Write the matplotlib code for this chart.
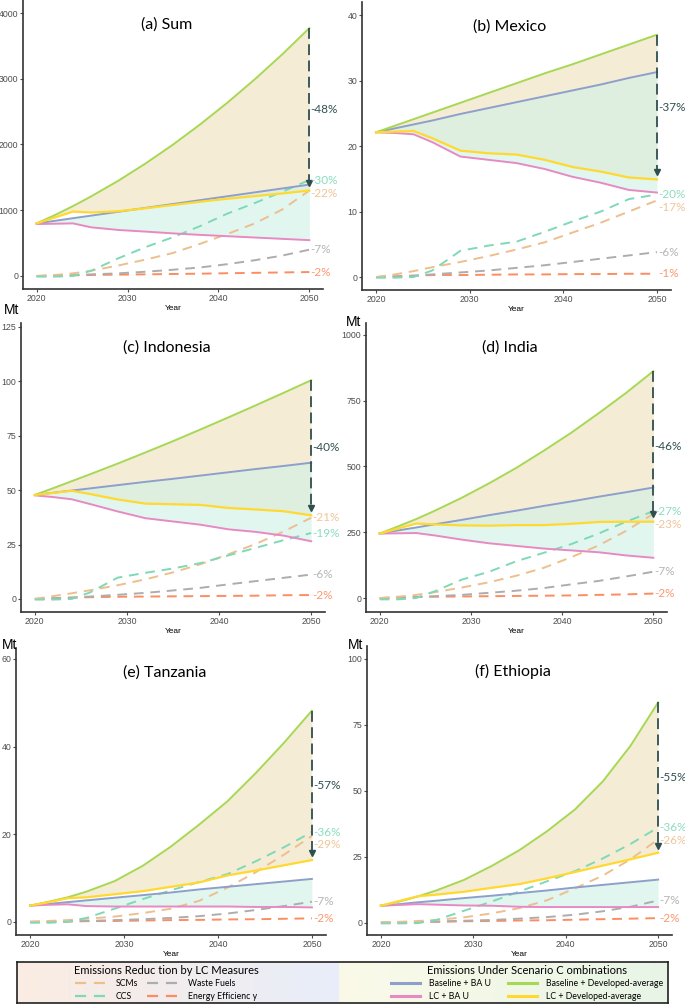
import numpy as np
import matplotlib
matplotlib.use('Agg')
import matplotlib.pyplot as plt
from matplotlib.lines import Line2D
from matplotlib.transforms import blended_transform_factory

years = [2020, 2022, 2024, 2026, 2029, 2032, 2035, 2038, 2041, 2044, 2047, 2050]

# (a) Sum
sum_base_bau = [800, 839, 879, 918, 977, 1036, 1095, 1154, 1213, 1272, 1331, 1390]
sum_lc_bau = [790, 795, 800, 740, 700, 675, 648, 625, 605, 585, 565, 545]
sum_base_dev = [800, 926, 1063, 1211, 1450, 1713, 1998, 2307, 2638, 2992, 3369, 3770]
sum_lc_dev = [800, 890, 980, 965, 985, 1030, 1080, 1130, 1175, 1215, 1255, 1300]
sum_scm = [0, 15, 40, 80, 160, 250, 350, 490, 640, 800, 1010, 1300]
sum_ccs = [-10, -10, 0, 80, 270, 440, 590, 760, 950, 1110, 1280, 1460]
sum_waste = [0, 5, 12, 25, 40, 65, 95, 130, 180, 240, 310, 400]
sum_ee = [0, 5, 10, 15, 20, 25, 30, 35, 42, 48, 54, 60]
sum_pct = ['-48%', '-30%', '-22%', '-7%', '-2%']

# (b) Mexico
mex_base_bau = [22.1, 22.7, 23.3, 23.9, 24.9, 25.8, 26.7, 27.6, 28.5, 29.4, 30.4, 31.3]
mex_lc_bau = [22.1, 22.0, 21.8, 20.6, 18.4, 17.9, 17.4, 16.5, 15.3, 14.4, 13.3, 12.9]
mex_base_dev = [22.1, 23.1, 24.1, 25.1, 26.6, 28.1, 29.6, 31.1, 32.5, 34.0, 35.5, 37.0]
mex_lc_dev = [22.1, 22.2, 22.3, 21.2, 19.3, 18.9, 18.7, 17.9, 16.8, 16.1, 15.2, 14.9]
mex_scm = [0, 0.4, 0.9, 1.5, 2.3, 3.2, 4.2, 5.3, 6.8, 8.3, 10.0, 11.7]
mex_ccs = [-0.1, -0.1, 0.0, 1.0, 4.0, 4.8, 5.4, 6.9, 8.5, 10.0, 11.9, 12.6]
mex_waste = [0, 0.1, 0.2, 0.4, 0.7, 1.0, 1.4, 1.8, 2.3, 2.8, 3.3, 3.8]
mex_ee = [0, 0.1, 0.2, 0.3, 0.3, 0.35, 0.4, 0.4, 0.45, 0.45, 0.5, 0.5]
mex_pct = ['-37%', '-20%', '-17%', '-6%', '-1%']

# (c) Indonesia
idn_base_bau = [47.8, 48.8, 49.8, 50.8, 52.3, 53.8, 55.2, 56.7, 58.2, 59.7, 61.1, 62.6]
idn_lc_bau = [47.6, 46.8, 45.8, 43.6, 40.2, 37.1, 35.6, 34.1, 32.0, 30.8, 29.1, 26.5]
idn_base_dev = [47.8, 50.9, 54.1, 57.3, 62.2, 67.3, 72.5, 77.9, 83.4, 89.0, 94.7, 100.5]
idn_lc_dev = [47.8, 48.7, 49.7, 48.2, 45.7, 43.8, 43.5, 43.2, 41.8, 41.1, 40.3, 38.4]
idn_scm = [0, 1.3, 2.6, 4.0, 6.3, 9.0, 12.2, 16.0, 20.5, 25.3, 31.0, 37.3]
idn_ccs = [-0.3, -0.3, 0.0, 3.0, 9.8, 12.0, 14.0, 16.5, 20.0, 23.5, 27.0, 30.3]
idn_waste = [0, 0.3, 0.6, 1.1, 1.9, 2.8, 3.9, 5.1, 6.7, 8.2, 9.7, 11.2]
idn_ee = [0, 0.3, 0.6, 0.8, 1.0, 1.1, 1.2, 1.3, 1.4, 1.5, 1.7, 1.8]
idn_pct = ['-40%', '-19%', '-21%', '-6%', '-2%']

# (d) India
ind_base_bau = [245, 257, 268, 280, 297, 315, 332, 350, 367, 385, 402, 420]
ind_lc_bau = [245, 246, 247, 238, 222, 208, 198, 188, 181, 174, 162, 153]
ind_base_dev = [245, 272, 300, 331, 381, 436, 495, 560, 628, 702, 779, 862]
ind_lc_dev = [245, 264, 283, 280, 276, 275, 277, 277, 282, 289, 290, 290]
ind_scm = [0, 5, 12, 22, 40, 60, 85, 115, 155, 200, 255, 320]
ind_ccs = [-5, -5, 0, 25, 70, 100, 140, 172, 205, 245, 290, 330]
ind_waste = [0, 2, 4, 7, 12, 20, 28, 38, 52, 65, 82, 100]
ind_ee = [0, 2, 4, 5, 6, 7, 8, 9, 10, 12, 14, 17]
ind_pct = ['-46%', '-27%', '-23%', '-7%', '-2%']

# (e) Tanzania
tza_base_bau = [3.7, 4.1, 4.5, 4.9, 5.5, 6.1, 6.7, 7.4, 8.0, 8.6, 9.2, 9.8]
tza_lc_bau = [3.7, 3.9, 4.0, 3.6, 3.5, 3.5, 3.5, 3.5, 3.5, 3.4, 3.4, 3.3]
tza_base_dev = [3.7, 4.6, 5.6, 6.9, 9.3, 12.8, 17.2, 22.2, 27.5, 33.9, 40.8, 48.2]
tza_lc_dev = [3.7, 4.5, 5.4, 5.6, 6.3, 7.0, 8.0, 9.0, 10.6, 11.7, 12.9, 14.1]
tza_scm = [0, 0.2, 0.4, 0.7, 1.2, 2.0, 3.0, 4.8, 7.8, 11.3, 15.3, 19.6]
tza_ccs = [-0.2, -0.2, 0.0, 0.9, 3.0, 5.2, 7.2, 9.1, 10.9, 13.8, 17.0, 20.5]
tza_waste = [0, 0.05, 0.1, 0.2, 0.4, 0.6, 0.9, 1.3, 1.9, 2.7, 3.6, 4.6]
tza_ee = [0, 0.05, 0.1, 0.15, 0.2, 0.3, 0.4, 0.45, 0.55, 0.6, 0.7, 0.8]
tza_pct = ['-57%', '-36%', '-29%', '-7%', '-2%']

# (f) Ethiopia
eth_base_bau = [6.4, 7.0, 7.7, 8.3, 9.3, 10.2, 11.2, 12.2, 13.3, 14.3, 15.3, 16.3]
eth_lc_bau = [6.4, 6.7, 7.0, 6.8, 6.5, 6.4, 6.0, 5.9, 5.9, 5.9, 5.9, 5.9]
eth_base_dev = [6.4, 8.0, 9.9, 12.2, 16.2, 21.5, 27.5, 34.7, 42.9, 53.5, 67.0, 83.5]
eth_lc_dev = [6.4, 8.2, 10.0, 10.6, 11.7, 13.2, 14.6, 16.8, 19.2, 21.6, 24.0, 26.5]
eth_scm = [0, 0.3, 0.6, 1.0, 2.0, 3.5, 5.5, 8.5, 13.0, 17.8, 24.0, 31.6]
eth_ccs = [-0.3, -0.3, -0.2, 1.0, 4.5, 8.0, 11.8, 15.7, 19.5, 24.3, 29.8, 36.1]
eth_waste = [0, 0.1, 0.2, 0.4, 0.7, 1.0, 1.5, 2.1, 3.0, 4.3, 6.0, 8.4]
eth_ee = [0, 0.1, 0.2, 0.3, 0.5, 0.6, 0.8, 0.9, 1.1, 1.3, 1.5, 1.7]
eth_pct = ['-55%', '-36%', '-26%', '-7%', '-2%']

# cores
c_base_bau = '#8DA0CB'
c_lc_bau = '#E78AC3'
c_base_dev = '#A6D854'
c_lc_dev = '#FFD92F'
c_scm = '#EDBF8E'
c_ccs = '#7FD9B6'
c_waste = '#ADADAD'
c_ee = '#FC8D62'
escuro = '#2F4F4F'

W, H = 685, 1008
fig = plt.figure(figsize=(W / 100.0, H / 100.0), dpi=100)


def caixa(l, r, t, b):
    return [l / float(W), 1 - b / float(H), (r - l) / float(W), (b - t) / float(H)]


def painel(pos, titulo, ylim, yticks, base_bau, lc_bau, base_dev, lc_dev, scm, ccs, waste, ee, pct):
    ax = fig.add_axes(caixa(*pos))
    ax.fill_between(years, base_dev, lc_dev, color='#E5C98A', alpha=0.35, lw=0)
    ax.fill_between(years, base_bau, lc_bau, color='#CFF0E6', alpha=0.6, lw=0)

    for serie, cor in [(ee, c_ee), (waste, c_waste), (scm, c_scm), (ccs, c_ccs)]:
        ax.plot(years, serie, color=cor, lw=1.4, dashes=(5, 3.5))

    ax.plot(years, base_bau, color=c_base_bau, lw=1.4)
    ax.plot(years, lc_bau, color=c_lc_bau, lw=1.4)
    ax.plot(years, base_dev, color=c_base_dev, lw=1.4)
    ax.plot(years, lc_dev, color=c_lc_dev, lw=1.6)

    y0, y1 = ylim
    fim = lc_dev[-1] + 0.025 * (y1 - y0)
    ax.plot([years[-1], years[-1]], [base_dev[-1], fim], color=escuro, lw=1.3, dashes=(6, 3))
    ax.plot([years[-1]], [fim], marker='v', ms=4, color=escuro)
    ax.text(years[-1] + 0.1, (base_dev[-1] + lc_dev[-1]) / 2.0, pct[0], color=escuro,
            ha='left', va='center', fontsize=8.5, family='Lato')

    # rotulos das medidas, afastados se muito proximos
    rot = sorted([(ccs[-1], pct[1], c_ccs), (scm[-1], pct[2], c_scm),
                  (waste[-1], pct[3], c_waste), (ee[-1], pct[4], c_ee)], reverse=True)
    gap = 0.045 * (y1 - y0)
    prev = None
    for yv, txt, cor in rot:
        if prev is not None:
            yv = min(yv, prev - gap)
        prev = yv
        ax.text(years[-1] + 0.1, yv, txt, color=cor, ha='left', va='center',
                fontsize=8.5, family='Lato', alpha=0.9)

    ax.set_xlim(2018.5, 2051.5)
    ax.set_ylim(y0, y1)
    ax.set_xticks([2020, 2030, 2040, 2050])
    ax.set_yticks(yticks)
    ax.spines[['top', 'right']].set_visible(False)
    for s in ['left', 'bottom']:
        ax.spines[s].set_color('#333333')
        ax.spines[s].set_linewidth(1.2)
    ax.tick_params(labelsize=6.3, colors='#4D4D4D', length=2, width=0.8, pad=1.5)
    for lb in ax.get_xticklabels() + ax.get_yticklabels():
        lb.set_family('Liberation Sans')
    ax.set_xlabel('Year', fontsize=6, labelpad=1.5, family=['Liberation Sans Narrow', 'Liberation Sans'])

    altura = pos[3] - pos[2]
    tr = blended_transform_factory(ax.transData, ax.transAxes)
    ax.text(2034.3, 1 - 25.0 / altura, titulo, transform=tr, ha='center', va='center',
            fontsize=11.5, family='Lato')
    return ax


painel((23, 323, 0, 289), '(a) Sum', (-198, 4198), [0, 1000, 2000, 3000, 4000],
       sum_base_bau, sum_lc_bau, sum_base_dev, sum_lc_dev, sum_scm, sum_ccs, sum_waste, sum_ee, sum_pct)
painel((362, 671, 2, 290), '(b) Mexico', (-1.98, 42.0), [0, 10, 20, 30, 40],
       mex_base_bau, mex_lc_bau, mex_base_dev, mex_lc_dev, mex_scm, mex_ccs, mex_waste, mex_ee, mex_pct)
painel((21, 325, 323, 612), '(c) Indonesia', (-6.0, 126.8), [0, 25, 50, 75, 100, 125],
       idn_base_bau, idn_lc_bau, idn_base_dev, idn_lc_dev, idn_scm, idn_ccs, idn_waste, idn_ee, idn_pct)
painel((366, 667, 323, 612), '(d) India', (-53, 1045), [0, 250, 500, 750, 1000],
       ind_base_bau, ind_lc_bau, ind_base_dev, ind_lc_dev, ind_scm, ind_ccs, ind_waste, ind_ee, ind_pct)
painel((16, 326, 648, 935), '(e) Tanzania', (-3.0, 62.5), [0, 20, 40, 60],
       tza_base_bau, tza_lc_bau, tza_base_dev, tza_lc_dev, tza_scm, tza_ccs, tza_waste, tza_ee, tza_pct)
painel((367, 672, 646, 935), '(f) Ethiopia', (-4.7, 104.9), [0, 25, 50, 75, 100],
       eth_base_bau, eth_lc_bau, eth_base_dev, eth_lc_dev, eth_scm, eth_ccs, eth_waste, eth_ee, eth_pct)

# rotulos "Mt"
for px, py in [(12, 310), (354, 322), (10, 645), (356, 645)]:
    fig.text(px / float(W), 1 - py / float(H), 'Mt', ha='center', va='center',
             fontsize=10, family='Liberation Sans')

# caixa da legenda com fundo em degrade
bg = fig.add_axes(caixa(17, 668, 962, 1003))
n = 600
meio = int(n * (340 - 17) / (668 - 17.0))
esq = np.linspace([251, 236, 226], [232, 238, 250], meio)
dir_ = np.linspace([251, 250, 233], [232, 245, 230], n - meio)
grad = np.vstack([esq, dir_]) / 255.0
bg.imshow(grad[np.newaxis, :, :], aspect='auto', extent=(0, 1, 0, 1))
bg.set_xticks([])
bg.set_yticks([])
for s in bg.spines.values():
    s.set_color('#222222')
    s.set_linewidth(1.2)

h_esq = [Line2D([], [], color=c_scm, lw=1.6, dashes=(5, 3.5)),
         Line2D([], [], color=c_ccs, lw=1.6, dashes=(5, 3.5)),
         Line2D([], [], color=c_waste, lw=1.6, dashes=(5, 3.5)),
         Line2D([], [], color=c_ee, lw=1.6, dashes=(5, 3.5))]
l_esq = ['SCMs', 'CCS', 'Waste Fuels', 'Energy Efficienc y']
leg1 = fig.legend(h_esq, l_esq, ncol=2, loc='center', bbox_to_anchor=(166 / float(W), 1 - 983 / float(H)),
                  frameon=False, title='Emissions Reduc tion by LC Measures',
                  prop={'family': 'Lato', 'size': 6.3}, title_fontproperties={'family': 'Lato', 'size': 8},
                  handlelength=4.0, handletextpad=0.7, columnspacing=1.0, labelspacing=0.45,
                  borderpad=0.1)
h_dir = [Line2D([], [], color=c_base_bau, lw=2.2),
         Line2D([], [], color=c_lc_bau, lw=2.2),
         Line2D([], [], color=c_base_dev, lw=2.2),
         Line2D([], [], color=c_lc_dev, lw=2.2)]
l_dir = ['Baseline + BA U', 'LC + BA U', 'Baseline + Developed-average', 'LC + Developed-average']
leg2 = fig.legend(h_dir, l_dir, ncol=2, loc='center', bbox_to_anchor=(527 / float(W), 1 - 983 / float(H)),
                  frameon=False, title='Emissions Under Scenario C ombinations',
                  prop={'family': 'Lato', 'size': 6.3}, title_fontproperties={'family': 'Lato', 'size': 8},
                  handlelength=3.3, handletextpad=1.0, columnspacing=2.0, labelspacing=0.45,
                  borderpad=0.1)

plt.savefig('out.png', dpi=100)
